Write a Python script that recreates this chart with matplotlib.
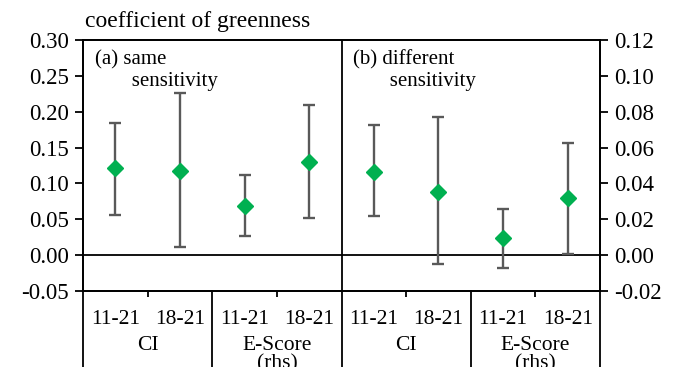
import matplotlib.pyplot as plt
from matplotlib.lines import Line2D

plt.rcParams['font.family'] = ['Liberation Serif', 'DejaVu Serif']

# coefficient estimates and error-bar bounds, order: panel (a), panel (b)
ci_mid = [0.121, 0.118, 0.116, 0.088]
ci_lo = [0.056, 0.012, 0.054, -0.013]
ci_hi = [0.184, 0.226, 0.182, 0.193]

es_mid = [0.0273, 0.0517, 0.0096, 0.0318]   # right-hand scale
es_lo = [0.0105, 0.0205, -0.0073, 0.0005]
es_hi = [0.0446, 0.0837, 0.026, 0.0627]

periods = ['11-21', '18-21']
groups = ['CI', 'E-Score\n(rhs)']
panels = ['(a) same\n       sensitivity', '(b) different\n       sensitivity']

W, H = 674, 367
fig = plt.figure(figsize=(W / 100, H / 100), dpi=100)
x0, x1, y0, y1 = 83, 600, 40, 291
ax = fig.add_axes([x0 / W, 1 - y1 / H, (x1 - x0) / W, (y1 - y0) / H])
ax2 = ax.twinx()

ax.set_xlim(0, 8)
ax.set_ylim(-0.05, 0.30)
ax2.set_ylim(-0.02, 0.12)
ax.set_yticks([-0.05, 0, 0.05, 0.10, 0.15, 0.20, 0.25, 0.30])
ax.set_yticklabels(['%.2f' % v for v in ax.get_yticks()])
ax2.set_yticks([-0.02, 0, 0.02, 0.04, 0.06, 0.08, 0.10, 0.12])
ax2.set_yticklabels(['%.2f' % v for v in ax2.get_yticks()])

gray = '#595959'
green = '#00B050'
ci_x = [0.5, 1.5, 4.5, 5.5]
es_x = [2.5, 3.5, 6.5, 7.5]

def draw(a, xs, mid, lo, hi):
    err = [[m - l for m, l in zip(mid, lo)], [h - m for m, h in zip(mid, hi)]]
    a.errorbar(xs, mid, yerr=err, fmt='none', ecolor=gray, elinewidth=1.7,
               capsize=4.5, capthick=1.7, zorder=3)
    a.plot(xs, mid, 'D', color=green, markersize=8.5, zorder=4)

draw(ax, ci_x, ci_mid, ci_lo, ci_hi)
draw(ax2, es_x, es_mid, es_lo, es_hi)

ax.axhline(0, color='black', lw=1.3)
ax.axvline(4, color='black', lw=1.3)

for a in (ax, ax2):
    for s in a.spines.values():
        s.set_linewidth(1.3)
ax.tick_params(axis='y', direction='out', length=6, width=1.3, labelsize=16.5, pad=4)
ax2.tick_params(axis='y', direction='out', length=6, width=1.3, labelsize=16.5, pad=4)

# bottom axis: minor ticks mid-group, labels as text
ax.set_xticks([1, 3, 5, 7])
ax.set_xticklabels([])
ax.tick_params(axis='x', direction='out', length=4, width=1.3)

tr = ax.get_xaxis_transform()
for i in range(8):
    ax.text(i + 0.5, -0.075, periods[i % 2], transform=tr, ha='center', va='top',
            fontsize=15.5)
for g in range(4):
    ax.text(2 * g + 1, -0.18, groups[g % 2], transform=tr, ha='center', va='top',
            fontsize=15.5, linespacing=0.95)
for xv in [0, 2, 4, 6, 8]:
    ax.add_line(Line2D([xv, xv], [0, -0.31], transform=tr, color='black',
                       lw=1.3, clip_on=False))

for p in range(2):
    ax.text(4 * p + 0.18, 0.96, panels[p], transform=tr, ha='left', va='top',
            fontsize=15, linespacing=1.2)

fig.text(85 / W, 1 - 21 / H, 'coefficient of greenness', ha='left', va='center',
         fontsize=17)

fig.savefig('out.png', dpi=100)
